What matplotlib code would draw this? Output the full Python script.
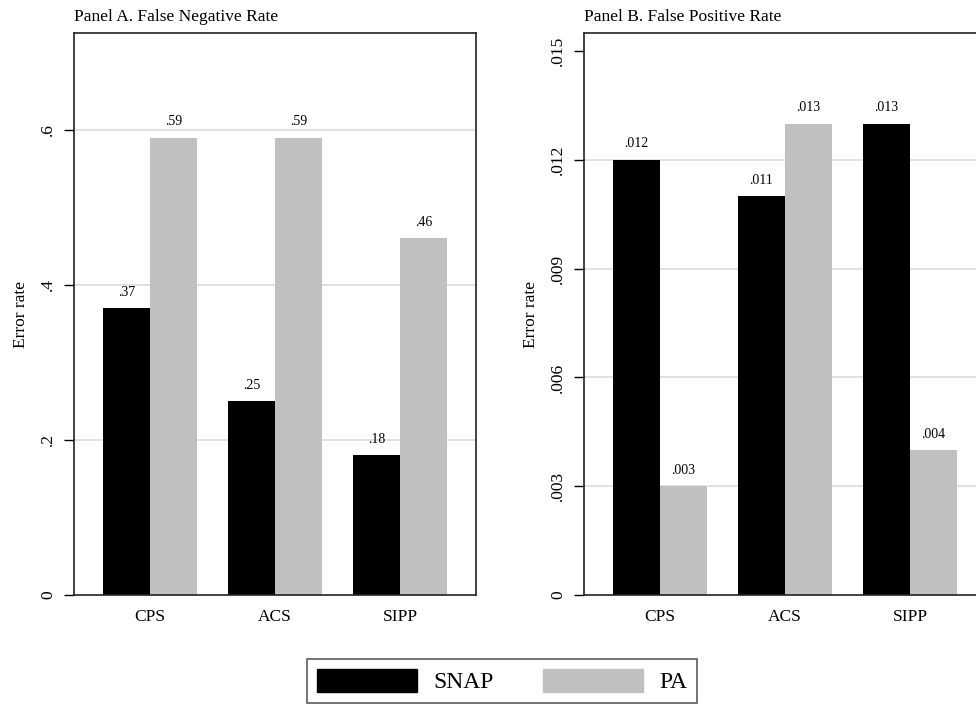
import numpy as np
import matplotlib.pyplot as plt
from matplotlib.patches import Patch

plt.rcParams['font.family'] = ['Liberation Serif', 'DejaVu Serif']

# data
surveys = ['CPS', 'ACS', 'SIPP']
fnr_snap = [0.37, 0.25, 0.18]
fnr_pa = [0.59, 0.59, 0.46]
fpr_snap = [0.012, 0.011, 0.013]
fpr_pa = [0.003, 0.013, 0.004]
fnr_labels_snap = ['.37', '.25', '.18']
fnr_labels_pa = ['.59', '.59', '.46']
fpr_labels_snap = ['.012', '.011', '.013']
fpr_labels_pa = ['.003', '.013', '.004']
fnr_ticks = [0, 0.2, 0.4, 0.6]
fnr_ticklabels = ['0', '.2', '.4', '.6']
fpr_ticks = [0, 0.003, 0.006, 0.009, 0.012, 0.015]
fpr_ticklabels = ['0', '.003', '.006', '.009', '.012', '.015']

BLACK = '#000000'
GRAY = '#c0c0c0'
W, H = 976, 705

fig = plt.figure(figsize=(W / 100, H / 100), dpi=100)

#----------------------------------------------------------------------------------------
def panel(rect, snap, pa, lab_snap, lab_pa, ticks, ticklabels, ylim, grid, title, off):
    ax = fig.add_axes(rect)
    x = np.arange(len(surveys))
    bw = 0.376
    ax.bar(x - bw / 2, snap, bw, color=BLACK, zorder=2)
    ax.bar(x + bw / 2, pa, bw, color=GRAY, zorder=2)
    for xi, v, s in zip(x, snap, lab_snap):
        ax.text(xi - bw / 2, v + off, s, ha='center', va='bottom', fontsize=10)
    for xi, v, s in zip(x, pa, lab_pa):
        ax.text(xi + bw / 2, v + off, s, ha='center', va='bottom', fontsize=10)
    for g in grid:
        ax.axhline(g, color='#dcdcdc', lw=1.2, zorder=1)
    ax.set_xlim(-0.608, 2.608)
    ax.set_ylim(*ylim)
    ax.set_xticks(x)
    ax.set_xticklabels(surveys, fontsize=12.5)
    ax.tick_params(axis='x', length=0, pad=10)
    ax.set_yticks(ticks)
    ax.set_yticklabels(ticklabels, fontsize=12.5, rotation=90, va='center')
    ax.tick_params(axis='y', length=7, width=1, pad=6, direction='out')
    ax.set_ylabel('Error rate', fontsize=12.5, labelpad=8)
    for sp in ax.spines.values():
        sp.set_linewidth(1.2)
        sp.set_color('#222222')
    ax.text(0, 1.015, title, transform=ax.transAxes, fontsize=12.5,
            ha='left', va='bottom')
    return ax

bottom = 1 - 595 / H
height = (595 - 33) / H
panel([74 / W, bottom, (476 - 74) / W, height], fnr_snap, fnr_pa,
      fnr_labels_snap, fnr_labels_pa, fnr_ticks, fnr_ticklabels,
      (0, 0.725), [0.2, 0.4, 0.6], 'Panel A. False Negative Rate', 0.012)
panel([584 / W, bottom, (986 - 584) / W, height], fpr_snap, fpr_pa,
      fpr_labels_snap, fpr_labels_pa, fpr_ticks, fpr_ticklabels,
      (0, 0.0155), [0.003, 0.006, 0.009, 0.012], 'Panel B. False Positive Rate', 0.00026)

handles = [Patch(color=BLACK, label='SNAP'), Patch(color=GRAY, label='PA')]
leg = fig.legend(handles=handles, loc='center', bbox_to_anchor=(502 / W, 1 - 681 / H),
                 ncol=2, fontsize=17, frameon=True, fancybox=False, edgecolor='#333333',
                 handlelength=4.24, handleheight=1.14, handletextpad=0.68, columnspacing=2.1,
                 borderpad=0.42, borderaxespad=0)
leg.get_frame().set_linewidth(1.2)

fig.savefig('out.png', dpi=100)
